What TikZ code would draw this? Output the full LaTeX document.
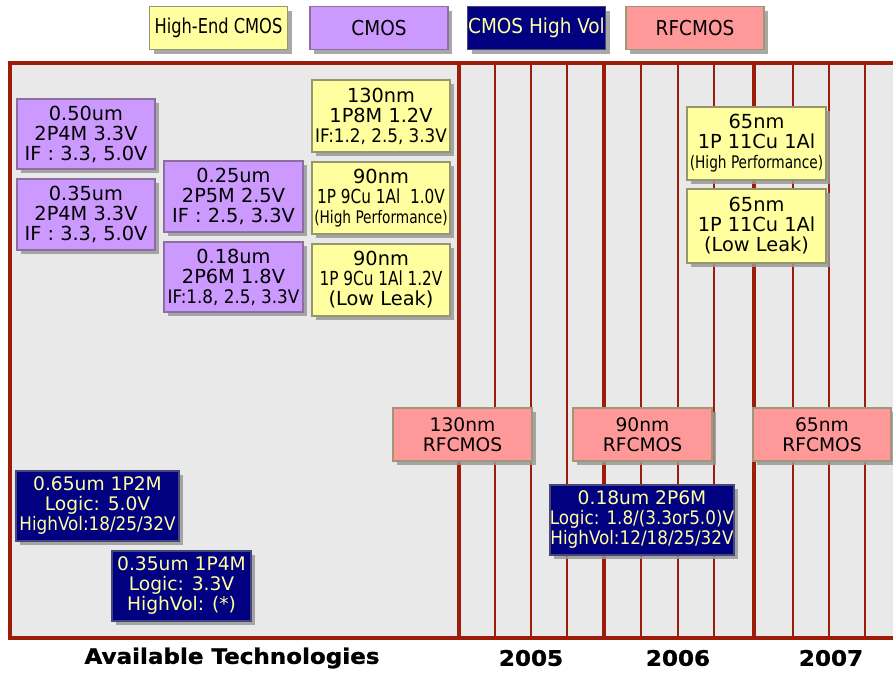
\documentclass[tikz,border=0pt]{standalone}
\usepackage{fontspec}
\setmainfont{DejaVu Sans}
\newfontfamily\dvc{DejaVu Sans Condensed}
\newfontfamily\dvn[FakeStretch=0.88]{DejaVu Sans Condensed}
\newfontfamily\heavy[FakeBold=1.2,FakeStretch=1.08]{DejaVu Sans Bold}
\usetikzlibrary{shadows}

\definecolor{framered}{RGB}{158,28,10}
\definecolor{panel}{RGB}{233,233,233}
\definecolor{hiend}{RGB}{255,255,160}
\definecolor{hiendline}{RGB}{150,150,110}
\definecolor{cmos}{RGB}{204,153,255}
\definecolor{cmosline}{RGB}{140,110,160}
\definecolor{hvol}{RGB}{0,0,128}
\definecolor{hvolline}{RGB}{70,70,120}
\definecolor{hvtext}{RGB}{255,255,160}
\definecolor{rfc}{RGB}{255,153,153}
\definecolor{rfcline}{RGB}{160,150,120}

% condensed and narrow lines inside the boxes
\newcommand\cnd[1]{{\dvc\fontsize{14}{15}\selectfont #1}}
\newcommand\nrw[1]{{\dvn\fontsize{14.5}{15}\selectfont #1}}
\newcommand\sml[1]{{\dvn\fontsize{13}{15}\selectfont #1}}

\begin{document}
\begin{tikzpicture}[x=0.75pt,y=-0.75pt,
  box/.style={draw, line width=0.9pt, inner sep=0pt, align=center,
    font=\fontsize{14.5}{15}\selectfont,
    drop shadow={shadow xshift=3pt, shadow yshift=-3pt, fill=black!40, opacity=0.85}},
  bw/.style={minimum width={#1*0.75pt}},
  bh/.style={minimum height={#1*0.75pt}},
  hebox/.style={box, fill=hiend, draw=hiendline},
  cmbox/.style={box, fill=cmos, draw=cmosline},
  hvbox/.style={box, fill=hvol, draw=hvolline, text=hvtext},
  rfbox/.style={box, fill=rfc, draw=rfcline},
  keybox/.style={bw=138, bh=43, font=\dvc\fontsize{15.4}{16}\selectfont},
  quarter/.style={framered, line width=1.4pt},
  yearline/.style={framered, line width=2.6pt},
  axislabel/.style={font=\heavy\fontsize{16}{18}\selectfont}]

\useasboundingbox (0,0) rectangle (893,675);

% timeline panel
\fill[panel] (10,63) rectangle (920,638);
\foreach \x in {495,531,567,641,678,714,793,829,865}
  \draw[quarter] (\x,63) -- (\x,638);
\foreach \x in {459,604,754}
  \draw[yearline] (\x,63) -- (\x,638);
\draw[framered, line width=2.4pt] (10,63) rectangle (920,638);

% legend
\node[hebox, keybox] (lgHE) at (218.5,28) {{\dvn High-End CMOS}};
\node[cmbox, keybox] (lgCM) at (379,28) {CMOS};
\node[hvbox, keybox] (lgHV) at (536.5,28) {CMOS High Vol};
\node[rfbox, keybox] (lgRF) at (695,28) {RFCMOS};

% CMOS
\node[cmbox, bw=138, bh=70] (p050) at (86,134) {0.50um\\2P4M 3.3V\\IF : 3.3, 5.0V};
\node[cmbox, bw=138, bh=71] (p035) at (86,214.5) {0.35um\\2P4M 3.3V\\IF : 3.3, 5.0V};
\node[cmbox, bw=139, bh=71] (p025) at (233.5,196.5) {0.25um\\2P5M 2.5V\\IF : 2.5, 3.3V};
\node[cmbox, bw=139, bh=70] (p018) at (233.5,277) {0.18um\\2P6M 1.8V\\\cnd{IF:1.8, 2.5, 3.3V}};

% High-End CMOS
\node[hebox, bw=138, bh=72] (y130) at (381,116) {130nm\\1P8M 1.2V\\\cnd{IF:1.2, 2.5, 3.3V}};
\node[hebox, bw=138, bh=72] (y90h) at (381,198) {90nm\\\nrw{1P 9Cu 1Al\ \ 1.0V}\\\sml{(High Performance)}};
\node[hebox, bw=138, bh=72] (y90l) at (381,280) {90nm\\\nrw{1P 9Cu 1Al 1.2V}\\(Low Leak)};
\node[hebox, bw=139, bh=73] (y65h) at (756.5,143.5) {65nm\\1P 11Cu 1Al\\\sml{(High Performance)}};
\node[hebox, bw=139, bh=74] (y65l) at (756.5,226) {65nm\\1P 11Cu 1Al\\(Low Leak)};

% RFCMOS
\node[rfbox, bw=139, bh=53, font=\fontsize{14}{15}\selectfont] (r130) at (462.5,434.5) {130nm\\RFCMOS};
\node[rfbox, bw=139, bh=53, font=\fontsize{14}{15}\selectfont] (r90) at (642.5,434.5) {90nm\\RFCMOS};
\node[rfbox, bw=138, bh=53, font=\fontsize{14}{15}\selectfont] (r65) at (822,434.5) {65nm\\RFCMOS};

% CMOS High Vol
\node[hvbox, bw=163, bh=70, font=\fontsize{14}{15}\selectfont] (n065) at (97.5,506) {0.65um 1P2M\\Logic: 5.0V\\\cnd{HighVol:18/25/32V}};
\node[hvbox, bw=139, bh=70, font=\fontsize{14}{15}\selectfont] (n035) at (181.5,586) {0.35um 1P4M\\Logic: 3.3V\\HighVol: (*)};
\node[hvbox, bw=182, bh=70, font=\fontsize{14}{15}\selectfont] (n018) at (642,520) {0.18um 2P6M\\\cnd{Logic: 1.8/(3.3or5.0)V}\\\cnd{HighVol:12/18/25/32V}};

% axis labels
\node[axislabel] (avail) at (232,658) {Available Technologies};
\node[axislabel] (y2005) at (531,658) {2005};
\node[axislabel] (y2006) at (678,658) {2006};
\node[axislabel] (y2007) at (831,658) {2007};
\end{tikzpicture}
\end{document}
